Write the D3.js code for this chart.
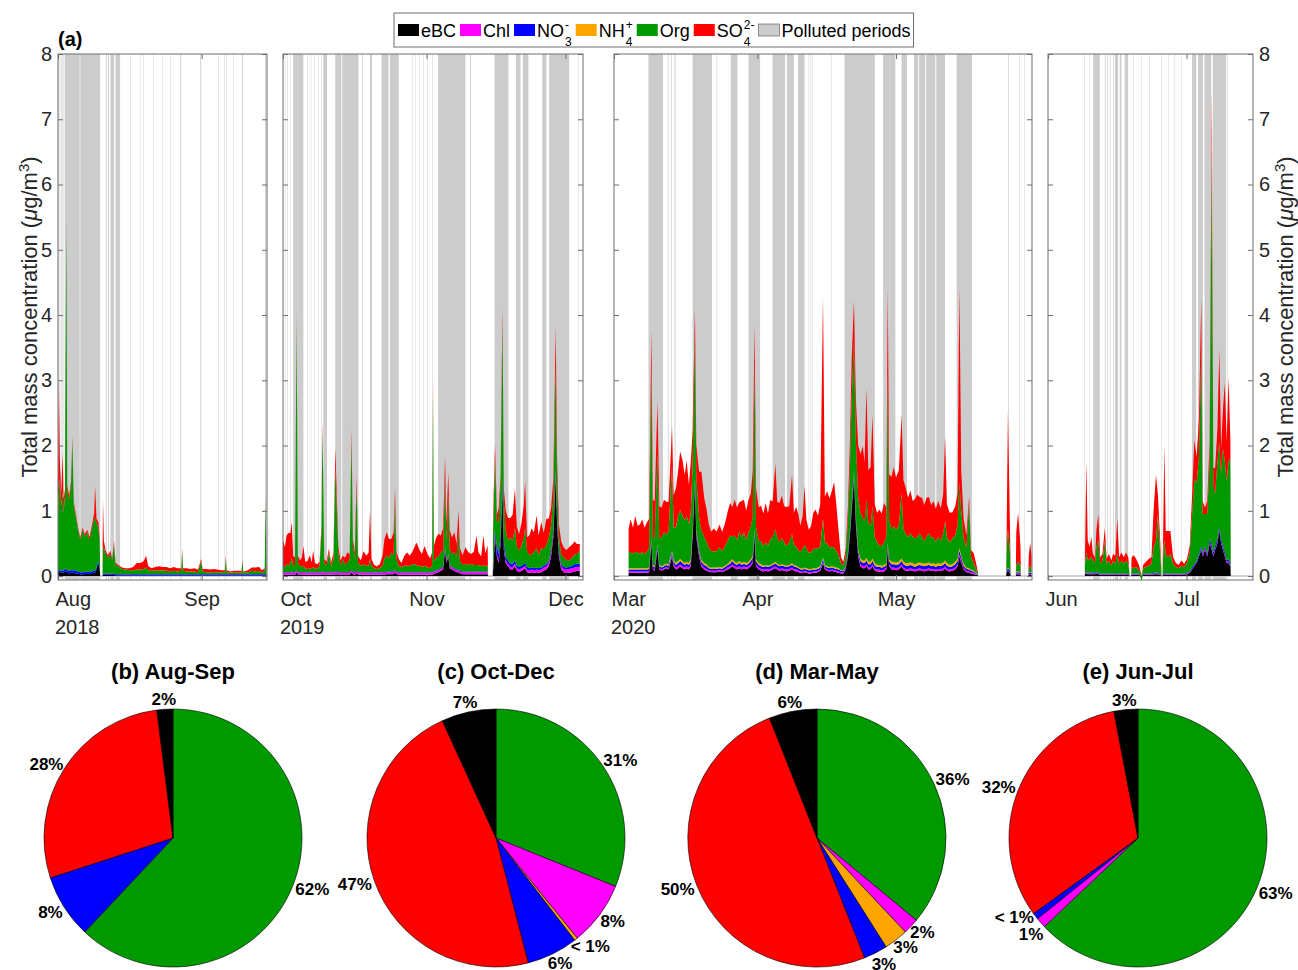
<!DOCTYPE html>
<html>
<head>
<meta charset="utf-8">
<script src="https://d3js.org/d3.v7.min.js"></script>
<style>
  body { margin: 0; background: #fff; }
  svg { font-family: "Liberation Sans", Arial, Helvetica, sans-serif; }
</style>
</head>
<body>
<svg id="chart" width="1298" height="970"></svg>
<script>
/* ---------- data ---------- */
/* species keys, stacking order from the bottom */
var species = ["bc", "chl", "no3", "nh4", "org", "so4"];

/* panel time spans (start date, length in days) */
var panel_start = ["2018-08-01", "2019-10-01", "2020-03-01", "2020-06-01"];
var panel_days = [45.1, 64.8, 90.4, 44.4];
var year_labels = ["2018", "2019", "2020", ""];

/* mass concentrations (ug/m3), t = days since panel start */
var aug_cols = ["t", "bc", "no3", "org", "so4"];
var aug_rows = [
  [0.0,0.05,0.03,0.9,0.25],[0.2,0.08,0.03,1.2,1.7],[0.4,0.06,0.03,1.4,0.3],[0.7,0.05,0.03,1.0,0.2],
  [1.0,0.06,0.03,1.2,0.6],[1.2,0.05,0.03,0.9,0.2],[1.5,0.08,0.04,1.1,0.1],[1.8,0.05,0.04,5.3,0.1],
  [2.0,0.05,0.04,1.2,0.1],[2.4,0.04,0.04,1.1,0.05],[2.8,0.05,0.04,1.3,0.05],[3.1,0.05,0.04,2.0,0.05],
  [3.4,0.05,0.04,1.0,0.05],[3.8,0.04,0.04,0.85,0.04],[4.3,0.04,0.03,0.65,0.03],[4.8,0.03,0.03,0.5,0.03],
  [5.3,0.03,0.03,0.65,0.03],[5.8,0.03,0.03,0.55,0.03],[6.3,0.04,0.03,0.6,0.04],[6.8,0.03,0.03,0.5,0.04],
  [7.3,0.04,0.03,0.65,0.05],[7.8,0.05,0.03,0.8,0.08],[8.0,0.05,0.03,0.8,0.5],[8.3,0.1,0.03,0.7,0.05],
  [8.7,0.2,0.03,0.5,0.1],[9.0,0.1,0.03,0.4,0.05],[9.1,0,0,0,0],[9.6,0,0,0,0],
  [9.7,0.02,0.02,0.4,0.75],[9.9,0.02,0.02,0.4,0.1],[10.3,0.02,0.02,0.3,0.05],[10.8,0.02,0.02,0.25,0.03],
  [11.3,0.02,0.02,0.3,0.05],[11.7,0.02,0.02,0.2,0.03],[12.1,0.02,0.02,0.45,0.05],[12.4,0.01,0.02,0.15,0.03],
  [13.0,0.01,0.02,0.12,0.02],[13.8,0.01,0.02,0.08,0.02],[14.6,0.01,0.02,0.07,0.02],[15.4,0.01,0.02,0.06,0.03],
  [16.2,0.01,0.02,0.06,0.05],[17.0,0.01,0.02,0.07,0.1],[17.8,0.01,0.02,0.07,0.1],[18.5,0.01,0.02,0.08,0.12],
  [19.0,0.01,0.02,0.1,0.18],[19.5,0.01,0.02,0.06,0.06],[20.2,0.01,0.02,0.05,0.04],[21.0,0.01,0.02,0.06,0.05],
  [21.8,0.01,0.02,0.05,0.07],[22.6,0.01,0.02,0.06,0.05],[23.4,0.01,0.02,0.05,0.06],[24.2,0.01,0.02,0.04,0.05],
  [25.0,0.01,0.02,0.05,0.06],[25.8,0.01,0.02,0.04,0.05],[26.6,0.01,0.02,0.05,0.04],[26.8,0.01,0.02,0.35,0.04],
  [27.0,0.01,0.02,0.05,0.04],[27.8,0.01,0.02,0.04,0.05],[28.6,0.01,0.02,0.04,0.04],[29.4,0.01,0.02,0.04,0.05],
  [30.2,0.01,0.02,0.03,0.04],[30.9,0.01,0.02,0.2,0.03],[31.2,0.01,0.02,0.04,0.04],[32.0,0.01,0.02,0.03,0.05],
  [32.8,0.01,0.02,0.03,0.04],[33.6,0.01,0.02,0.03,0.05],[34.4,0.01,0.02,0.03,0.04],[35.2,0.01,0.02,0.03,0.03],
  [36.0,0.01,0.02,0.03,0.03],[36.2,0.01,0.02,0.25,0.03],[36.4,0.01,0.02,0.03,0.03],[37.2,0.01,0.02,0.02,0.02],
  [38.0,0.01,0.02,0.03,0.02],[38.8,0.01,0.02,0.02,0.03],[39.6,0.01,0.02,0.03,0.02],[39.8,0.01,0.02,0.2,0.02],
  [40.0,0.01,0.02,0.02,0.02],[41.0,0.01,0.02,0.03,0.03],[41.8,0.01,0.02,0.05,0.05],[42.6,0.01,0.02,0.04,0.06],
  [43.4,0.01,0.02,0.05,0.06],[44.0,0.01,0.02,0.02,0.04],[44.6,0.01,0.02,0.05,0.04],[44.8,0.01,0.02,1.1,0.05],
  [45.0,0.01,0.02,0.06,0.05]
];

var oct_cols = ["t", "bc", "chl", "no3", "org", "so4"];
var oct_rows = [
  [0.0,0.02,0.03,0.01,0.1,0.4],[0.4,0.02,0.03,0.01,0.08,0.3],[0.8,0.02,0.03,0.01,0.12,0.45],[1.2,0.02,0.03,0.01,0.1,0.5],
  [1.6,0.02,0.03,0.01,0.15,0.45],[1.9,0.03,0.03,0.01,0.2,0.55],[2.2,0.02,0.03,0.01,0.1,0.15],[2.6,0.02,0.03,0.01,0.12,0.1],
  [2.95,0.05,0.03,0.01,3.8,0.1],[3.2,0.02,0.03,0.01,0.15,0.1],[3.7,0.02,0.03,0.01,0.1,0.08],[4.1,0.02,0.03,0.01,0.08,0.15],
  [4.4,0.02,0.03,0.01,0.1,0.3],[4.8,0.02,0.03,0.01,0.06,0.1],[5.3,0.02,0.03,0.01,0.05,0.12],[5.8,0.02,0.03,0.01,0.06,0.2],
  [6.2,0.02,0.03,0.01,0.05,0.1],[6.5,0.02,0.03,0.01,0.08,0.25],[6.9,0.02,0.03,0.01,0.06,0.08],[7.4,0.02,0.03,0.01,0.05,0.07],
  [7.9,0.02,0.03,0.01,0.1,0.06],[8.3,0.02,0.03,0.01,0.6,0.1],[8.5,0.03,0.03,0.01,2.2,0.1],[8.7,0.03,0.03,0.01,1.3,0.1],
  [8.9,0.02,0.03,0.01,0.15,0.05],[9.4,0.02,0.03,0.01,0.1,0.06],[9.9,0.02,0.03,0.01,0.3,0.06],[10.4,0.02,0.03,0.01,0.1,0.05],
  [10.9,0.02,0.03,0.01,0.2,0.1],[11.3,0.03,0.03,0.01,1.6,0.3],[11.6,0.03,0.03,0.01,1.0,0.2],[11.95,0.02,0.03,0.01,0.3,0.1],
  [12.4,0.02,0.03,0.01,0.1,0.08],[12.9,0.02,0.03,0.01,0.2,0.05],[13.4,0.02,0.03,0.01,0.12,0.1],[13.9,0.02,0.03,0.01,0.15,0.15],
  [14.4,0.02,0.03,0.01,0.2,0.08],[14.8,0.05,0.03,0.01,2.0,0.15],[15.1,0.03,0.03,0.01,0.4,0.1],[15.5,0.02,0.03,0.01,0.2,0.1],
  [15.9,0.04,0.03,0.01,1.3,0.15],[16.2,0.02,0.03,0.01,0.15,0.1],[16.8,0.02,0.03,0.01,0.1,0.08],[17.4,0.02,0.03,0.01,0.12,0.2],
  [18.0,0.02,0.03,0.01,0.1,0.15],[18.5,0.02,0.03,0.01,0.1,0.2],[18.8,0.02,0.03,0.01,0.2,0.75],[19.1,0.02,0.03,0.01,0.1,0.1],
  [19.7,0.02,0.03,0.01,0.06,0.05],[20.3,0.02,0.03,0.01,0.05,0.04],[20.9,0.02,0.03,0.01,0.06,0.06],[21.5,0.02,0.03,0.01,0.1,0.15],
  [21.9,0.02,0.03,0.01,0.2,0.3],[22.4,0.03,0.03,0.01,0.25,0.35],[22.9,0.03,0.03,0.01,0.2,0.3],[23.4,0.03,0.03,0.01,0.3,0.2],
  [23.9,0.03,0.03,0.01,0.25,0.35],[24.2,0.05,0.03,0.01,1.1,0.15],[24.5,0.03,0.03,0.01,0.2,0.1],[25.0,0.02,0.03,0.01,0.1,0.1],
  [25.6,0.02,0.03,0.01,0.08,0.06],[26.2,0.02,0.03,0.01,0.1,0.15],[26.8,0.02,0.03,0.01,0.1,0.2],[27.4,0.02,0.03,0.01,0.1,0.15],
  [28.0,0.02,0.03,0.01,0.12,0.2],[28.6,0.02,0.03,0.01,0.12,0.3],[28.9,0.02,0.03,0.01,0.1,0.35],[29.4,0.02,0.03,0.01,0.1,0.25],
  [30.0,0.02,0.03,0.01,0.08,0.2],[30.6,0.02,0.03,0.01,0.1,0.3],[31.2,0.02,0.03,0.01,0.08,0.2],[31.8,0.02,0.03,0.01,0.06,0.15],
  [32.2,0.02,0.03,0.01,0.1,0.2],[32.4,0.03,0.03,0.01,2.8,0.15],[32.6,0.03,0.03,0.01,0.15,0.25],[33.1,0.05,0.03,0.01,0.2,0.3],
  [33.6,0.06,0.03,0.01,0.2,0.35],[34.1,0.08,0.03,0.01,0.25,0.25],[34.6,0.1,0.03,0.01,0.25,0.35],[35.0,0.4,0.03,0.01,1.1,0.3],
  [35.3,0.2,0.03,0.01,0.25,0.3],[35.7,0.3,0.03,0.01,0.9,0.35],[36.0,0.12,0.03,0.01,0.25,0.3],[36.5,0.1,0.03,0.01,0.2,0.25],
  [37.0,0.08,0.03,0.01,0.25,0.3],[37.5,0.06,0.03,0.01,0.2,0.2],[37.9,0.06,0.03,0.01,0.6,0.3],[38.2,0.04,0.03,0.01,0.15,0.2],
  [38.8,0.03,0.03,0.01,0.1,0.15],[39.4,0.03,0.03,0.01,0.12,0.25],[40.0,0.03,0.03,0.01,0.1,0.2],[40.6,0.03,0.03,0.01,0.12,0.15],
  [41.2,0.03,0.03,0.01,0.1,0.2],[41.8,0.03,0.03,0.01,0.1,0.45],[42.2,0.03,0.03,0.01,0.1,0.2],[42.8,0.03,0.03,0.01,0.08,0.15],
  [43.3,0.03,0.03,0.01,0.1,0.45],[43.7,0.03,0.03,0.01,0.08,0.2],[44.2,0.03,0.03,0.01,0.1,0.3],[44.3,0,0,0,0,0],
  [45.3,0,0,0,0,0],[45.4,0.1,0.03,0.05,0.6,0.2],[45.8,0.6,0.04,0.08,1.1,0.2],[46.2,0.3,0.04,0.1,0.4,0.1],
  [46.6,0.2,0.04,0.1,0.5,0.2],[47.0,0.5,0.04,0.1,0.8,0.1],[47.4,1.3,0.05,0.15,2.4,0.2],[47.7,0.4,0.04,0.1,0.6,0.2],
  [48.1,0.2,0.04,0.06,0.4,0.3],[48.6,0.15,0.04,0.05,0.3,0.35],[49.1,0.1,0.04,0.05,0.4,0.3],[49.6,0.1,0.04,0.05,0.35,0.4],
  [50.1,0.15,0.04,0.05,0.5,0.6],[50.5,0.08,0.04,0.04,0.3,0.3],[51.0,0.06,0.04,0.04,0.25,0.25],[51.5,0.08,0.04,0.04,0.3,0.35],
  [52.0,0.1,0.04,0.04,0.4,0.5],[52.3,0.12,0.04,0.04,0.55,0.7],[52.7,0.06,0.04,0.04,0.25,0.2],[53.2,0.05,0.04,0.03,0.2,0.3],
  [53.7,0.06,0.04,0.03,0.2,0.4],[54.2,0.05,0.04,0.03,0.25,0.3],[54.8,0.06,0.04,0.03,0.3,0.5],[55.2,0.05,0.04,0.03,0.2,0.3],
  [55.8,0.06,0.04,0.03,0.3,0.4],[56.3,0.08,0.05,0.03,0.25,0.25],[56.9,0.1,0.05,0.03,0.3,0.4],[57.4,0.15,0.05,0.03,0.35,0.3],
  [57.9,0.3,0.05,0.04,0.4,0.25],[58.4,0.6,0.05,0.05,0.5,0.3],[58.9,1.5,0.06,0.06,1.6,0.6],[59.2,0.8,0.05,0.05,0.6,0.3],
  [59.6,0.3,0.05,0.04,0.2,0.2],[60.1,0.1,0.05,0.03,0.15,0.2],[60.6,0.06,0.05,0.03,0.15,0.15],[61.2,0.05,0.05,0.03,0.12,0.15],
  [61.8,0.05,0.06,0.03,0.1,0.2],[62.4,0.06,0.06,0.04,0.12,0.2],[63.0,0.07,0.06,0.05,0.15,0.2],[63.5,0.08,0.06,0.05,0.15,0.15],
  [64.1,0.08,0.06,0.05,0.2,0.1]
];

var mar_cols = ["t", "bc", "chl", "no3", "nh4", "org", "so4"];
var mar_rows = [
  [3.16,0.05,0.02,0.03,0.02,0.25,0.35],[3.6,0.05,0.02,0.03,0.02,0.25,0.5],[4.1,0.05,0.02,0.03,0.02,0.22,0.4],
  [4.6,0.05,0.02,0.03,0.02,0.25,0.55],[5.1,0.05,0.02,0.03,0.02,0.25,0.4],[5.6,0.05,0.02,0.03,0.02,0.22,0.45],
  [6.1,0.05,0.02,0.03,0.02,0.25,0.5],[6.6,0.05,0.02,0.03,0.02,0.22,0.4],[7.1,0.05,0.02,0.03,0.02,0.25,0.45],
  [7.6,0.06,0.02,0.03,0.02,0.3,0.45],[8.08,0.5,0.02,0.04,0.02,2.6,0.6],[8.4,0.1,0.02,0.03,0.02,0.4,0.6],
  [8.8,0.08,0.02,0.03,0.02,0.45,0.55],[9.4,0.4,0.02,0.04,0.02,1.4,0.8],[9.8,0.1,0.02,0.03,0.02,0.4,0.5],
  [10.3,0.08,0.02,0.03,0.02,0.45,0.45],[10.8,0.1,0.02,0.03,0.02,0.5,0.5],[11.3,0.12,0.02,0.03,0.02,0.45,0.5],
  [11.8,0.1,0.02,0.04,0.02,0.5,0.45],[12.55,0.3,0.03,0.04,0.02,1.3,0.6],[12.9,0.15,0.03,0.04,0.02,0.5,0.5],
  [13.4,0.1,0.03,0.04,0.03,0.55,0.6],[13.9,0.12,0.03,0.05,0.03,0.7,0.7],[14.3,0.15,0.03,0.05,0.03,0.75,0.9],
  [14.8,0.12,0.03,0.05,0.03,0.7,0.85],[15.3,0.1,0.03,0.04,0.03,0.65,0.7],[15.7,0.12,0.03,0.04,0.03,0.7,0.85],
  [16.2,0.1,0.03,0.04,0.03,0.6,0.6],[16.6,0.15,0.03,0.04,0.03,0.7,0.8],[17.0,0.6,0.03,0.05,0.03,1.0,0.5],
  [17.5,1.4,0.03,0.05,0.03,2.2,0.4],[17.8,0.6,0.03,0.05,0.03,0.8,0.5],[18.4,0.3,0.03,0.04,0.03,0.5,0.7],
  [18.9,0.15,0.03,0.04,0.03,0.45,0.9],[19.5,0.1,0.03,0.04,0.03,0.4,0.6],[20.0,0.08,0.03,0.04,0.03,0.35,0.5],
  [20.5,0.07,0.02,0.03,0.02,0.3,0.35],[21.0,0.06,0.02,0.03,0.02,0.25,0.3],[21.6,0.06,0.02,0.03,0.02,0.25,0.35],
  [22.2,0.06,0.02,0.03,0.02,0.25,0.3],[22.8,0.07,0.02,0.03,0.02,0.3,0.35],[23.4,0.06,0.02,0.03,0.02,0.25,0.3],
  [24.0,0.08,0.02,0.04,0.02,0.3,0.35],[24.6,0.1,0.03,0.04,0.02,0.35,0.45],[25.1,0.12,0.03,0.04,0.03,0.4,0.5],
  [25.6,0.15,0.03,0.05,0.03,0.35,0.45],[26.1,0.12,0.03,0.04,0.03,0.4,0.55],[26.6,0.1,0.03,0.04,0.03,0.35,0.5],
  [27.1,0.12,0.03,0.05,0.03,0.45,0.45],[27.6,0.1,0.03,0.04,0.03,0.4,0.55],[28.1,0.12,0.03,0.04,0.03,0.45,0.5],
  [28.6,0.1,0.03,0.04,0.03,0.35,0.45],[29.1,0.12,0.03,0.04,0.03,0.45,0.5],[29.6,0.15,0.03,0.05,0.03,0.5,0.5],
  [30.0,0.2,0.03,0.05,0.03,0.6,0.7],[30.4,0.6,0.03,0.06,0.03,2.5,0.65],[30.7,0.15,0.03,0.05,0.03,0.5,0.6],
  [31.3,0.1,0.03,0.04,0.03,0.35,0.5],[31.8,0.08,0.03,0.04,0.03,0.35,0.55],[32.3,0.07,0.03,0.04,0.02,0.3,0.5],
  [32.8,0.08,0.03,0.04,0.02,0.35,0.6],[33.3,0.07,0.03,0.04,0.02,0.3,0.5],[33.8,0.08,0.03,0.04,0.02,0.4,0.6],
  [34.3,0.1,0.03,0.04,0.02,0.4,0.55],[34.9,0.12,0.03,0.04,0.03,0.5,1.0],[35.3,0.1,0.03,0.04,0.02,0.4,0.55],
  [35.8,0.08,0.03,0.04,0.02,0.35,0.6],[36.3,0.09,0.03,0.04,0.02,0.4,0.65],[36.8,0.08,0.03,0.04,0.02,0.35,0.55],
  [37.3,0.07,0.03,0.04,0.02,0.3,0.6],[37.9,0.08,0.03,0.04,0.02,0.35,0.55],[38.5,0.1,0.03,0.04,0.03,0.45,0.9],
  [38.9,0.08,0.03,0.04,0.02,0.3,0.5],[39.4,0.07,0.03,0.04,0.02,0.3,0.6],[39.9,0.06,0.03,0.03,0.02,0.25,0.55],
  [40.3,0.05,0.02,0.03,0.02,0.25,0.4],[40.8,0.05,0.02,0.03,0.02,0.3,0.5],[41.2,0.06,0.02,0.03,0.02,0.35,0.9],
  [41.6,0.05,0.02,0.03,0.02,0.3,0.45],[42.1,0.04,0.02,0.03,0.02,0.25,0.35],[42.6,0.04,0.02,0.03,0.02,0.25,0.4],
  [43.1,0.05,0.02,0.03,0.02,0.3,0.55],[43.6,0.05,0.02,0.03,0.02,0.3,0.6],[44.1,0.06,0.02,0.03,0.02,0.3,0.5],
  [44.6,0.08,0.02,0.03,0.02,0.3,0.65],[45.2,0.2,0.02,0.04,0.02,0.6,3.4],[45.6,0.1,0.02,0.03,0.02,0.35,0.7],
  [46.1,0.08,0.02,0.03,0.02,0.35,0.8],[46.6,0.07,0.02,0.03,0.02,0.3,0.75],[47.1,0.08,0.02,0.03,0.02,0.3,0.85],
  [47.6,0.07,0.02,0.03,0.02,0.3,1.0],[48.1,0.06,0.02,0.03,0.02,0.25,0.7],[48.6,0.05,0.02,0.03,0.02,0.2,0.35],
  [49.1,0.04,0.02,0.02,0.01,0.1,0.1],[49.6,0.04,0.02,0.02,0.01,0.08,0.05],[50.1,0.1,0.02,0.02,0.01,0.15,0.1],
  [50.6,0.3,0.02,0.03,0.02,0.5,0.2],[51.0,0.6,0.03,0.04,0.02,0.9,0.4],[51.4,1.0,0.03,0.05,0.03,1.6,0.6],
  [51.9,1.5,0.03,0.06,0.03,2.0,0.6],[52.3,0.8,0.03,0.05,0.03,1.2,0.6],[52.8,0.3,0.03,0.05,0.03,0.8,0.8],
  [53.3,0.15,0.03,0.05,0.04,0.7,0.9],[53.8,0.12,0.03,0.05,0.04,0.65,1.1],[54.2,0.12,0.03,0.05,0.04,0.6,0.9],
  [54.6,0.15,0.03,0.06,0.04,0.9,1.7],[55.0,0.1,0.03,0.05,0.04,0.6,0.8],[55.5,0.1,0.03,0.05,0.04,0.55,0.9],
  [55.9,0.15,0.03,0.05,0.04,0.8,1.4],[56.4,0.08,0.03,0.05,0.04,0.4,0.5],[56.9,0.07,0.03,0.04,0.03,0.35,0.45],
  [57.4,0.07,0.03,0.04,0.03,0.3,0.55],[57.9,0.06,0.03,0.04,0.03,0.3,0.5],[58.4,0.07,0.03,0.04,0.03,0.35,0.6],
  [58.9,0.1,0.03,0.04,0.03,0.4,0.45],[59.2,0.4,0.03,0.05,0.03,2.6,1.3],[59.5,0.15,0.03,0.05,0.03,0.6,0.7],
  [60.0,0.1,0.03,0.05,0.04,0.5,0.8],[60.5,0.1,0.03,0.05,0.04,0.55,0.9],[61.0,0.09,0.03,0.05,0.04,0.5,0.8],
  [61.6,0.1,0.03,0.05,0.04,0.55,0.85],[62.2,0.15,0.03,0.05,0.04,1.0,1.2],[62.6,0.1,0.03,0.05,0.04,0.5,0.75],
  [63.1,0.08,0.03,0.05,0.04,0.45,0.7],[63.6,0.08,0.03,0.05,0.04,0.4,0.6],[64.1,0.09,0.03,0.05,0.04,0.45,0.65],
  [64.6,0.08,0.03,0.05,0.04,0.4,0.55],[65.1,0.07,0.03,0.04,0.04,0.4,0.6],[65.6,0.08,0.03,0.05,0.04,0.4,0.65],
  [66.1,0.09,0.03,0.05,0.04,0.45,0.55],[66.6,0.08,0.03,0.05,0.04,0.4,0.6],[67.1,0.07,0.03,0.05,0.04,0.35,0.55],
  [67.6,0.08,0.03,0.05,0.04,0.4,0.6],[68.1,0.09,0.03,0.05,0.04,0.45,0.55],[68.6,0.08,0.03,0.04,0.04,0.4,0.5],
  [69.1,0.08,0.03,0.05,0.04,0.4,0.55],[69.6,0.07,0.03,0.04,0.04,0.35,0.5],[70.1,0.08,0.03,0.05,0.04,0.4,0.55],
  [70.7,0.08,0.03,0.04,0.04,0.35,0.5],[71.2,0.09,0.03,0.05,0.04,0.45,0.6],[71.6,0.12,0.03,0.05,0.04,0.6,1.3],
  [72.0,0.08,0.03,0.05,0.04,0.4,0.5],[72.6,0.07,0.03,0.04,0.03,0.35,0.45],[73.2,0.08,0.03,0.04,0.03,0.4,0.4],
  [73.8,0.1,0.03,0.05,0.04,0.4,0.45],[74.3,0.15,0.03,0.05,0.04,0.5,0.5],[74.7,0.3,0.03,0.06,0.04,1.0,3.0],
  [75.1,0.2,0.03,0.05,0.03,0.7,0.6],[75.6,0.1,0.02,0.04,0.03,0.4,0.3],[76.2,0.06,0.02,0.03,0.02,0.3,0.2],
  [76.8,0.05,0.02,0.03,0.02,1.0,0.1],[77.2,0.04,0.02,0.02,0.02,0.2,0.1],[77.8,0.03,0.02,0.02,0.01,0.12,0.15],
  [78.3,0.02,0.01,0.01,0.01,0.05,0.1],[78.7,0.01,0.01,0.01,0,0.02,0.01],[78.8,0,0,0,0,0,0],
  [84.8,0,0,0,0,0,0],[84.9,0.05,0.01,0.03,0.01,0.3,0.2],[85.2,0.08,0.01,0.03,0.01,0.6,1.8],
  [85.6,0.05,0.01,0.03,0.01,0.3,0.5],[85.8,0,0,0,0,0,0],[86.9,0,0,0,0,0,0],
  [87.0,0.03,0.01,0.02,0.01,0.1,0.5],[87.4,0.03,0.01,0.02,0.01,0.15,0.75],[87.9,0.02,0.01,0.02,0.01,0.1,0.3],
  [88.0,0,0,0,0,0,0],[89.6,0,0,0,0,0,0],[89.7,0.02,0.01,0.02,0.01,0.05,0.2],
  [90.0,0.02,0.01,0.02,0.01,0.1,0.35],[90.3,0.02,0.01,0.02,0.01,0.05,0.2]
];

var jun_cols = ["t", "bc", "chl", "no3", "org", "so4"];
var jun_rows = [
  [8.0,0.03,0.01,0.01,0.12,0.08],[8.3,0.04,0.01,0.01,0.3,1.4],[8.6,0.03,0.01,0.01,0.2,0.3],[9.0,0.03,0.01,0.01,0.2,0.2],
  [9.4,0.03,0.01,0.01,0.25,0.3],[9.7,0.03,0.01,0.01,0.2,0.1],[10.2,0.03,0.01,0.01,0.15,0.08],[10.5,0.04,0.01,0.01,0.4,0.25],
  [10.9,0.03,0.01,0.01,0.5,0.4],[11.3,0.02,0.01,0.01,0.15,0.1],[11.8,0.02,0.01,0.01,0.2,0.1],[12.3,0.02,0.01,0.01,0.5,0.2],
  [12.7,0.02,0.01,0.01,0.15,0.08],[13.2,0.02,0.01,0.01,0.2,0.1],[13.7,0.02,0.01,0.01,0.12,0.08],[14.1,0.02,0.01,0.01,0.2,0.1],
  [14.6,0.02,0.01,0.01,0.15,0.12],[15.0,0.02,0.01,0.01,0.3,0.55],[15.4,0.02,0.01,0.01,0.15,0.1],[15.9,0.02,0.01,0.01,0.2,0.12],
  [16.4,0.02,0.01,0.01,0.15,0.1],[16.9,0.02,0.01,0.01,0.2,0.12],[17.4,0.02,0.01,0.01,0.15,0.1],[17.7,0,0,0,0,0],
  [18.0,0,0,0,0,0],[18.1,0.02,0.01,0.01,0.1,0.15],[18.6,0.02,0.01,0.01,0.08,0.2],[19.1,0.02,0.01,0.01,0.1,0.12],
  [19.7,0.02,0.01,0.01,0.05,0.08],[20.3,0,0,0,-0.07,0],[20.6,0.02,0.01,0.01,0.08,0.05],[21.2,0.02,0.01,0.01,0.1,0.08],
  [21.8,0.02,0.01,0.01,0.12,0.1],[22.4,0.02,0.01,0.01,0.15,0.1],[22.9,0.03,0.01,0.01,0.4,0.6],[23.4,0.03,0.01,0.01,0.5,1.0],
  [23.8,0.03,0.01,0.01,0.9,0.3],[24.3,0.02,0.01,0.01,0.3,0.2],[24.6,0,0,0,0,0],[24.8,0,0,0,0,0],
  [25.0,0.02,0.01,0.01,0.4,0.5],[25.2,0.03,0.01,0.01,0.5,1.45],[25.5,0.02,0.01,0.01,0.3,0.35],[26.0,0.02,0.01,0.01,0.25,0.4],
  [26.5,0.02,0.01,0.01,0.3,0.35],[27.1,0.02,0.01,0.01,0.15,0.1],[27.7,0.02,0.01,0.01,0.1,0.06],[28.3,0.02,0.01,0.01,0.08,0.05],
  [28.9,0.02,0.01,0.01,0.12,0.08],[29.5,0.02,0.01,0.01,0.1,0.05],[30.1,0.03,0.01,0.01,0.15,0.06],[30.7,0.05,0.01,0.01,0.3,0.1],
  [31.2,0.1,0.01,0.02,0.8,0.3],[31.7,0.15,0.01,0.02,1.3,0.6],[32.2,0.2,0.01,0.02,1.2,0.4],[32.7,0.3,0.01,0.03,1.5,0.6],
  [33.2,0.4,0.02,0.03,3.0,0.8],[33.5,0.3,0.02,0.03,0.6,0.2],[34.0,0.4,0.02,0.03,0.5,0.1],[34.5,0.3,0.02,0.03,0.6,0.2],
  [35.0,0.5,0.02,0.04,1.2,0.3],[35.5,0.4,0.02,0.04,6.2,0.8],[35.8,0.3,0.02,0.04,1.0,0.3],[36.2,0.4,0.02,0.04,0.8,0.4],
  [36.7,0.5,0.02,0.04,1.2,0.5],[37.1,0.7,0.02,0.04,1.3,1.4],[37.5,0.5,0.02,0.04,1.0,0.4],[37.9,0.4,0.02,0.04,1.5,0.6],
  [38.3,0.3,0.02,0.04,1.4,1.2],[38.7,0.2,0.02,0.03,1.2,0.6],[39.1,0.2,0.02,0.03,1.5,1.3],[39.5,0.15,0.02,0.03,1.6,0.3],
  [39.6,0,0,0,0,0]
];

/* polluted periods, [start, end] in days since panel start */
var aug_bands = [[0.1,0.2],[0.35,0.45],[0.6,0.75],[0.9,1.0],[1.2,1.35],[1.5,4.7],[4.8,9.1],[10.3,10.5],[10.8,11.0],
  [11.3,12.1],[12.4,13.4],[15.6,15.7],[17.8,17.9],[18.4,18.5],[20.6,20.7],[22.5,22.6],[24.3,24.4],[26.4,26.6],
  [30.7,30.9],[34.6,34.7],[35.9,36.0],[36.3,36.4],[37.8,37.9],[39.7,39.9],[44.7,44.95]];
var oct_bands = [[0.4,0.5],[0.9,1.0],[1.5,1.6],[2.2,4.4],[5.3,5.4],[6.0,6.1],[6.8,6.9],[7.6,7.7],[8.2,8.3],[8.7,9.5],
  [11.3,12.6],[12.8,16.3],[17.1,17.25],[18.8,19.2],[21.3,22.8],[23.1,25.0],[28.0,28.1],[28.6,28.7],[29.5,29.6],
  [30.3,30.4],[31.2,31.3],[32.2,32.3],[33.5,39.4],[40.4,40.6],[45.7,48.7],[50.3,51.3],[51.8,53.0],[56.0,56.9],
  [57.5,61.8],[63.8,63.9]];
var mar_bands = [[7.45,10.6],[11.65,11.8],[12.4,12.55],[13.0,13.1],[13.3,13.4],[17.0,21.2],[22.2,22.3],[25.25,26.7],
  [29.1,31.6],[34.3,37.0],[37.4,38.9],[39.8,41.2],[42.1,42.2],[42.5,42.6],[42.85,42.95],[47.0,47.1],[49.85,56.4],
  [58.2,60.85],[62.2,63.35],[64.9,65.8],[66.0,67.3],[67.5,69.5],[69.7,71.6],[74.1,77.4],[85.2,85.35],[87.7,87.8],
  [88.7,88.8]];
var jun_bands = [[7.9,8.0],[9.0,9.1],[9.8,11.2],[12.3,12.45],[12.8,12.95],[13.4,13.55],[14.1,14.25],[14.5,15.2],
  [15.55,15.9],[16.6,17.35],[18.5,18.6],[20.2,20.3],[21.9,22.0],[24.6,24.7],[26.0,26.1],[27.3,27.4],[28.8,28.9],
  [31.2,32.1],[32.5,33.55],[33.9,35.35],[35.7,38.6],[38.9,39.0]];

/* pie charts: mean composition (%) */
var pie_species = ["org", "chl", "nh4", "no3", "so4", "bc"];
var pie_titles = ["(b) Aug-Sep", "(c) Oct-Dec", "(d) Mar-May", "(e) Jun-Jul"];
var pie_aug = [62, 0, 0, 8, 28, 2];
var pie_oct = [31, 8, 0.4, 6.4, 47, 6.8];
var pie_mar = [36, 2, 3, 3, 50, 6];
var pie_jun = [63, 1.3, 0, 0.8, 32, 3];

/* ---------- styles / layout ---------- */
var colors = { bc: "#000000", chl: "#ff00ff", no3: "#0000ff", nh4: "#ffa500",
               org: "#009900", so4: "#ff0000", band: "#cccccc" };
var axisColor = "#262626", frameColor = "#6e6e6e";
var frames = [{ left: 58, width: 209 }, { left: 283, width: 300 },
              { left: 614, width: 418 }, { left: 1048, width: 205 }];
var yTop = 54, yBot = 580;
var DAY = 864e5;

var svg = d3.select("#chart");
var y = d3.scaleLinear().domain([-0.06, 8]).range([yBot, yTop]);

var panels = [
  { rows: aug_rows, cols: aug_cols, bands: aug_bands },
  { rows: oct_rows, cols: oct_cols, bands: oct_bands },
  { rows: mar_rows, cols: mar_cols, bands: mar_bands },
  { rows: jun_rows, cols: jun_cols, bands: jun_bands }
];

var stack = d3.stack().keys(species).offset(d3.stackOffsetDiverging);

panels.forEach(function(p, i) {
  var f = frames[i];
  var t0 = d3.utcParse("%Y-%m-%d")(panel_start[i]);
  var t1 = new Date(+t0 + panel_days[i] * DAY);
  var x = d3.scaleUtc().domain([t0, t1]).range([f.left, f.left + f.width]);
  var toDate = function(d) { return new Date(+t0 + d * DAY); };

  var g = svg.append("g");
  g.append("clipPath").attr("id", "clip" + i)
    .append("rect").attr("x", f.left).attr("y", yTop)
    .attr("width", f.width).attr("height", yBot - yTop);
  var plot = g.append("g").attr("clip-path", "url(#clip" + i + ")");

  /* polluted periods */
  plot.selectAll("rect.band").data(p.bands).enter().append("rect")
    .attr("class", "band")
    .attr("x", function(b) { return x(toDate(b[0])); })
    .attr("width", function(b) { return x(toDate(b[1])) - x(toDate(b[0])); })
    .attr("y", yTop).attr("height", yBot - yTop)
    .attr("fill", colors.band);

  /* area baseline */
  plot.append("line").attr("x1", f.left).attr("x2", f.left + f.width)
    .attr("y1", y(0)).attr("y2", y(0))
    .attr("stroke", "#c4c4c4").attr("stroke-width", 1.5);

  /* stacked areas */
  var recs = p.rows.map(function(r) {
    var o = { date: toDate(r[0]) };
    species.forEach(function(k) {
      var j = p.cols.indexOf(k);
      o[k] = j < 0 ? 0 : r[j];
    });
    return o;
  });
  var area = d3.area()
    .x(function(d) { return x(d.data.date); })
    .y0(function(d) { return y(d[0]); })
    .y1(function(d) { return y(d[1]); });
  plot.selectAll("path.layer").data(stack(recs)).enter().append("path")
    .attr("class", "layer")
    .attr("fill", function(s) { return colors[s.key]; })
    .attr("d", area);

  /* axes */
  var months = d3.utcMonth.range(t0, t1);
  var xb = g.append("g").attr("transform", "translate(0," + yBot + ")")
    .call(d3.axisBottom(x).tickValues(months).tickSize(-5).tickPadding(12)
      .tickFormat(d3.utcFormat("%b")));
  xb.selectAll("text").filter(function(d, k) { return k === 0; })
    .attr("text-anchor", "start").attr("x", -3);
  g.append("g").attr("transform", "translate(0," + yTop + ")")
    .call(d3.axisTop(x).tickValues(months).tickSize(-5).tickFormat(""));

  var yl = d3.axisLeft(y).tickValues(d3.range(0, 9)).tickSize(-5).tickPadding(6);
  var yr = d3.axisRight(y).tickValues(d3.range(0, 9)).tickSize(-5).tickPadding(6);
  if (i !== 0) yl.tickFormat("");
  if (i !== panels.length - 1) yr.tickFormat("");
  g.append("g").attr("transform", "translate(" + f.left + ",0)").call(yl);
  g.append("g").attr("transform", "translate(" + (f.left + f.width) + ",0)").call(yr);

  g.selectAll(".domain").remove();
  g.selectAll(".tick line").attr("stroke", frameColor);
  g.selectAll(".tick text").attr("fill", axisColor).attr("font-size", 20)
    .attr("font-family", "Liberation Sans, Arial, sans-serif");

  if (year_labels[i]) {
    g.append("text").attr("x", f.left - 3).attr("y", 634)
      .attr("font-size", 20).attr("fill", axisColor).text(year_labels[i]);
  }

  g.append("rect").attr("x", f.left).attr("y", yTop)
    .attr("width", f.width).attr("height", yBot - yTop)
    .attr("fill", "none").attr("stroke", frameColor).attr("stroke-width", 1);
});

/* y axis titles */
function yTitle(xpos) {
  var t = svg.append("text").attr("text-anchor", "middle").attr("font-size", 22)
    .attr("fill", axisColor)
    .attr("transform", "translate(" + xpos + ",317) rotate(-90)");
  t.append("tspan").text("Total mass concentration (");
  t.append("tspan").attr("font-style", "italic").text("\u03bc");
  t.append("tspan").text("g/m");
  t.append("tspan").attr("dy", -8).attr("font-size", 15).text("3");
  t.append("tspan").attr("dy", 8).text(")");
}
yTitle(37);
yTitle(1293);

svg.append("text").attr("x", 58).attr("y", 46).attr("font-size", 20)
  .attr("font-weight", "bold").attr("fill", "#000").text("(a)");

/* legend */
var legendItems = [
  { key: "bc", name: "eBC" }, { key: "chl", name: "Chl" },
  { key: "no3", name: "NO", sub: "3", sup: "-" }, { key: "nh4", name: "NH", sub: "4", sup: "+" },
  { key: "org", name: "Org" }, { key: "so4", name: "SO", sub: "4", sup: "2-" },
  { key: "band", name: "Polluted periods" }
];
var lg = svg.append("g");
var box = lg.append("rect").attr("x", 394).attr("y", 13).attr("height", 34)
  .attr("fill", "#fff").attr("stroke", frameColor).attr("stroke-width", 1);
var lx = 398;
legendItems.forEach(function(it) {
  lg.append("rect").attr("x", lx).attr("y", 24).attr("width", 21).attr("height", 12)
    .attr("fill", colors[it.key])
    .attr("stroke", it.key === "band" ? "#666" : "none").attr("stroke-width", 0.7);
  var t = lg.append("text").attr("x", lx + 23).attr("y", 37).attr("font-size", 18)
    .attr("fill", "#000").text(it.name);
  var w = t.node().getComputedTextLength();
  if (it.sub || it.sup) {
    var sx = lx + 23 + w + 1, sw = 0;
    if (it.sup) {
      var sp = lg.append("text").attr("x", sx).attr("y", 29).attr("font-size", 12).text(it.sup);
      sw = Math.max(sw, sp.node().getComputedTextLength());
    }
    if (it.sub) {
      var sb = lg.append("text").attr("x", sx).attr("y", 46).attr("font-size", 12).text(it.sub);
      sw = Math.max(sw, sb.node().getComputedTextLength());
    }
    w += 1 + sw;
  }
  lx += 23 + w + 4;
});
box.attr("width", lx - 394 - 1);

/* pies */
var pieData = [pie_aug, pie_oct, pie_mar, pie_jun];
var pieCx = [173, 496, 817, 1138], pieCy = 838, pieR = 129;
var pie = d3.pie().sort(null).value(function(d) { return d.v; });
var arc = d3.arc().innerRadius(0).outerRadius(pieR);

pieData.forEach(function(vals, i) {
  var g = svg.append("g").attr("transform", "translate(" + pieCx[i] + "," + pieCy + ")");
  var items = pie_species.map(function(k, j) { return { key: k, v: vals[j] }; });
  var arcs = pie(items).filter(function(a) { return a.data.v > 0; });

  g.selectAll("path").data(arcs).enter().append("path")
    .attr("d", arc)
    .attr("fill", function(a) { return colors[a.data.key]; })
    .attr("stroke", "#000").attr("stroke-width", 0.6);

  g.append("text").attr("x", 0).attr("y", 679 - pieCy).attr("text-anchor", "middle")
    .attr("font-size", 22).attr("font-weight", "bold").attr("fill", "#000")
    .text(pie_titles[i]);

  /* percentage labels just outside the rim */
  var R = pieR * 1.03, h = 12;
  var labs = arcs.map(function(a) {
    var m = (a.startAngle + a.endAngle) / 2;
    var txt = a.data.v < 1 ? "< 1%" : Math.round(a.data.v) + "%";
    var t = g.append("text").attr("font-size", 17).attr("font-weight", "bold")
      .attr("fill", "#000").attr("text-anchor", "middle").text(txt);
    var w = t.node().getComputedTextLength();
    return { node: t, w: w, m: m,
             x: R * Math.sin(m) + Math.sin(m) * w / 2,
             y: -R * Math.cos(m) - Math.cos(m) * h / 2 };
  });
  /* spread neighbouring labels apart along the rim direction */
  for (var k = 1; k < labs.length; k++) {
    var a = labs[k - 1], b = labs[k];
    var dy = b.y - a.y;
    if (Math.abs(b.x - a.x) < (a.w + b.w) / 2 && Math.abs(dy) < 17) {
      var push = (17 - Math.abs(dy)) / 2;
      var sb2 = Math.sin(b.m) < 0 ? -1 : 1;
      var sa2 = Math.sin(a.m) < 0 ? -1 : 1;
      b.y += sb2 * push;
      a.y -= sa2 * push;
      b.x += sb2 * push * 0.5;
      a.x -= sa2 * push * 0.5;
    }
  }
  labs.forEach(function(l) {
    l.node.attr("x", l.x).attr("y", l.y + h / 2);
  });
});
</script>
</body>
</html>
